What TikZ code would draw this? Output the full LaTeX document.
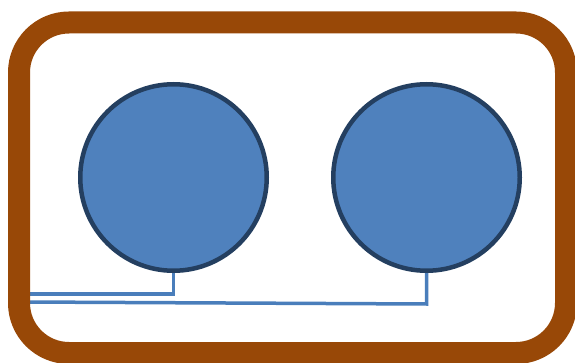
\documentclass[tikz,border=0pt]{standalone}
\begin{document}
\begin{tikzpicture}[x=1pt,y=-1pt,
  ball/.style={circle,draw=ballline,fill=ballfill,line width=4.5pt,minimum size=186.5pt,inner sep=0pt},
  wire/.style={draw=wirecol,line width=3.5pt},
  frame/.style={draw=framecol,line width=22pt,rounded corners=50pt}]
\definecolor{ballfill}{HTML}{4F81BD}
\definecolor{ballline}{HTML}{243F60}
\definecolor{wirecol}{HTML}{4A7EBB}
\definecolor{framecol}{HTML}{984807}
\useasboundingbox (0,0) rectangle (575,363);
\clip (0,0) rectangle (575,363);
\node[ball] (c1) at (173.5,177.5) {};
\node[ball] (c2) at (426.5,177.5) {};
\coordinate (k1) at (173.5,294);
\coordinate (e1) at (25,294);
\coordinate (k2) at (426.5,304);
\coordinate (e2) at (25,302);
\draw[wire] (c1.south) -- (k1) -- (e1);
\draw[wire] (c2.south) -- (k2) -- (e2);
\draw[frame] (19,22.5) rectangle (566,353);
\end{tikzpicture}
\end{document}
